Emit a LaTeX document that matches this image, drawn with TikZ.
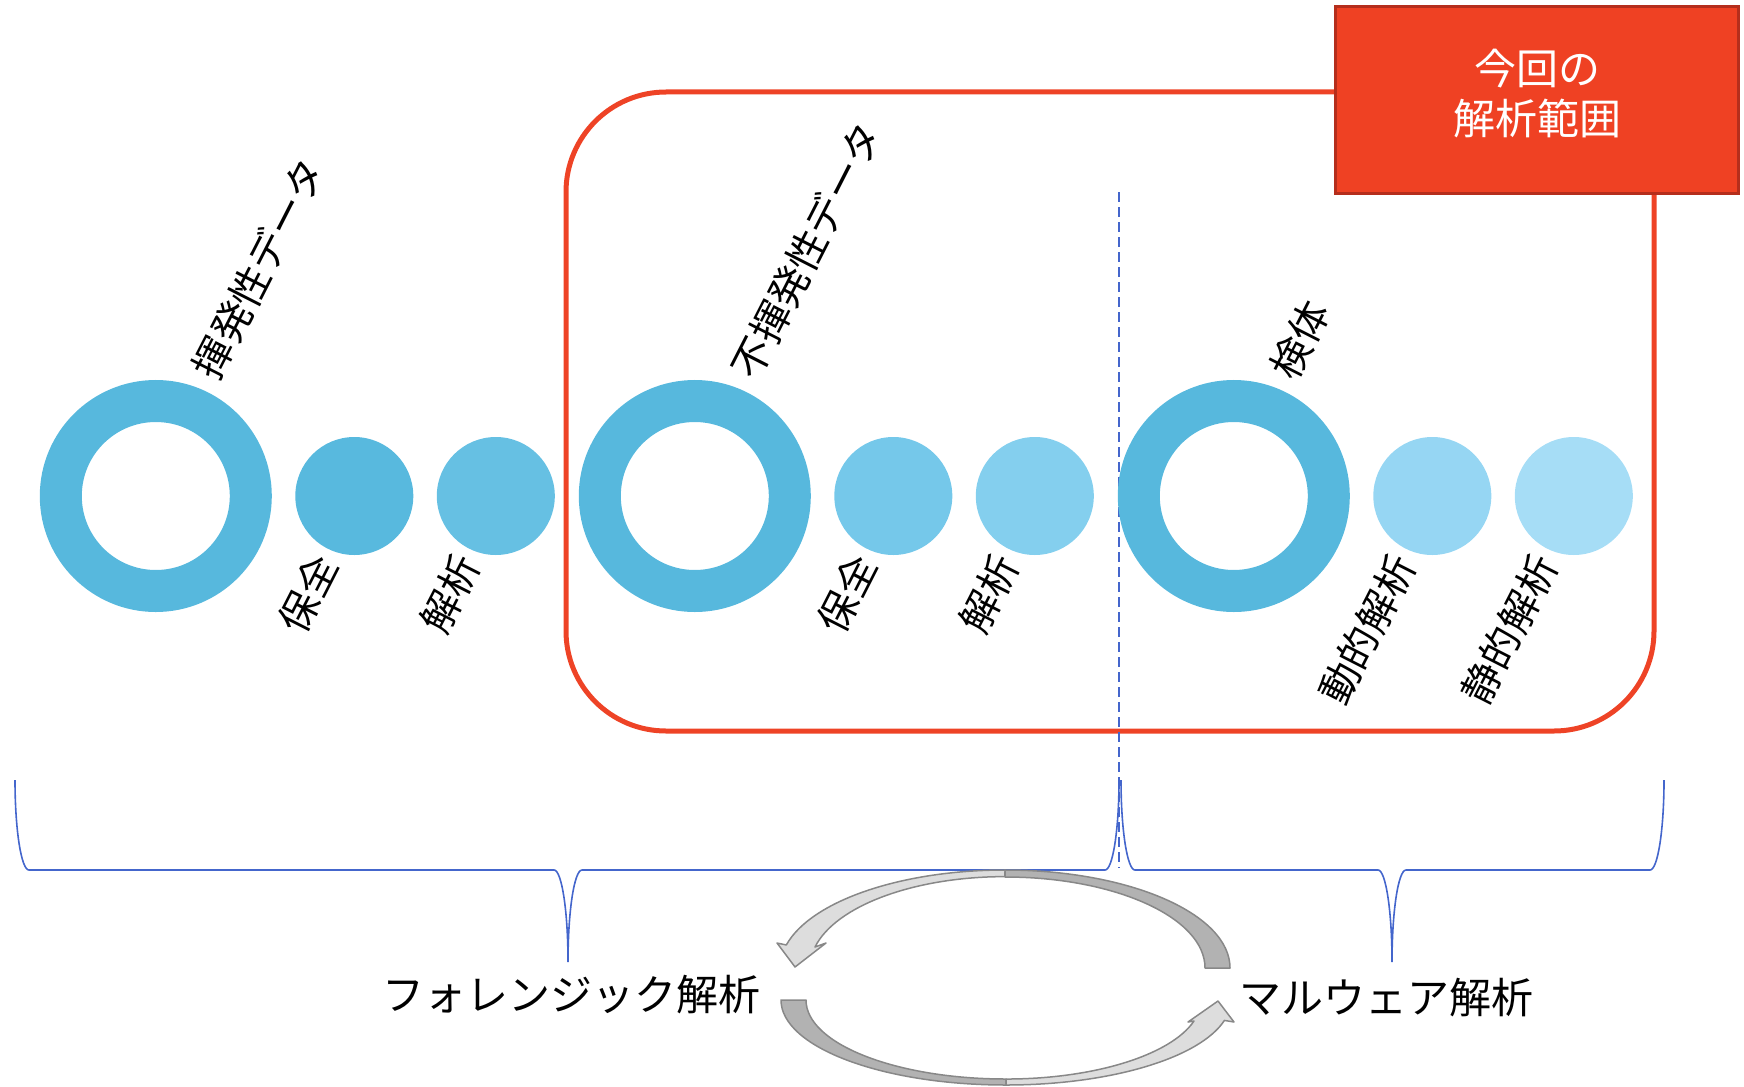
\documentclass[tikz,border=0pt]{standalone}
\usepackage{fontspec}
\setmainfont{Noto Sans CJK JP}
\definecolor{ringblue}{HTML}{57B8DD}
\definecolor{cA}{HTML}{58B9DE}
\definecolor{cB}{HTML}{66C0E3}
\definecolor{cC}{HTML}{75C8EA}
\definecolor{cD}{HTML}{84CFEE}
\definecolor{cE}{HTML}{96D6F3}
\definecolor{cF}{HTML}{A6DDF6}
\definecolor{scopered}{HTML}{EE4326}
\definecolor{boxred}{HTML}{EF4123}
\definecolor{boxedge}{HTML}{B52E1C}
\definecolor{braceblue}{HTML}{4466CC}
\definecolor{arrline}{HTML}{888888}
\definecolor{arrdarkfill}{HTML}{B2B2B2}
\definecolor{arrlightfill}{HTML}{DDDDDD}
\begin{document}
\begin{tikzpicture}[x=0.5pt,y=-0.5pt,
  ring/.style={circle,draw=ringblue,line width=21pt,minimum size=95pt,inner sep=0pt},
  dot/.style={circle,minimum size=59pt,inner sep=0pt},
  toplabel/.style={anchor=west,rotate=63,inner sep=0pt,font=\fontsize{20pt}{24pt}\selectfont},
  botlabel/.style={anchor=east,rotate=63,inner sep=0pt,font=\fontsize{20pt}{24pt}\selectfont},
  biglabel/.style={inner sep=0pt,font=\fontsize{21pt}{25pt}\selectfont},
  bluebrace/.style={draw=braceblue,line width=0.8pt},
  dashline/.style={draw=braceblue,line width=0.75pt,dash pattern=on 5pt off 2.5pt},
  arrdark/.style={draw=arrline,fill=arrdarkfill,line width=0.75pt,line join=round},
  arrlight/.style={draw=arrline,fill=arrlightfill,line width=0.75pt,line join=round}]
\useasboundingbox (0,0) rectangle (1744,1086);

% scope frame
\node[draw=scopered,line width=2.5pt,rounded corners=50pt,minimum width=544pt,minimum height=319.5pt,inner sep=0pt] (frame) at (1110,411.5) {};
% red label box
\node[draw=boxedge,fill=boxred,line width=1.5pt,minimum width=201.5pt,minimum height=93pt,inner sep=0pt] (scopebox) at (1536.5,100) {};
\node[biglabel,text=white,align=center] (scopetext) at (1537,94) {今回の\\解析範囲};

% dashed divider
\coordinate (dtop) at (1119,192);
\coordinate (dbot) at (1119,868);
\draw[dashline] (dtop) -- (dbot);

% rings and dots
\node[ring] (r1) at (155.8,496) {};
\node[ring] (r2) at (694.8,496) {};
\node[ring] (r3) at (1233.8,496) {};
\node[dot,fill=cA] (d1) at (354.3,496) {};
\node[dot,fill=cB] (d2) at (495.8,496) {};
\node[dot,fill=cC] (d3) at (893.3,496) {};
\node[dot,fill=cD] (d4) at (1034.8,496) {};
\node[dot,fill=cE] (d5) at (1432.3,496) {};
\node[dot,fill=cF] (d6) at (1573.8,496) {};

% labels
\node[toplabel] (l1) at (204,376) {揮発性データ};
\node[toplabel] (l2) at (743,376) {不揮発性データ};
\node[toplabel] (l3) at (1282,376) {検体};
\node[botlabel] (b1) at (326,558) {保全};
\node[botlabel] (b2) at (468,558) {解析};
\node[botlabel] (b3) at (865,558) {保全};
\node[botlabel] (b4) at (1007,558) {解析};
\node[botlabel] (b5) at (1404,558) {動的解析};
\node[botlabel] (b6) at (1546,558) {静的解析};

% braces
\draw[bluebrace] (15,780) arc[start angle=180,end angle=90,x radius=14,y radius=90]
  -- (554,870) arc[start angle=-90,end angle=0,x radius=14,y radius=92]
  arc[start angle=180,end angle=270,x radius=14,y radius=92]
  -- (1105,870) arc[start angle=90,end angle=0,x radius=14,y radius=90];
\draw[bluebrace] (1121,780) arc[start angle=180,end angle=90,x radius=14,y radius=90]
  -- (1378,870) arc[start angle=-90,end angle=0,x radius=14,y radius=92]
  arc[start angle=180,end angle=270,x radius=14,y radius=92]
  -- (1650,870) arc[start angle=90,end angle=0,x radius=14,y radius=90];

% bottom labels
\node[biglabel] (forensic) at (571.7,995) {フォレンジック解析};
\node[biglabel] (malware) at (1386,998) {マルウェア解析};

% cycle arrows
\draw[arrdark] (1230,968) arc[start angle=0,end angle=-90,x radius=225,y radius=98]
  -- (1005,877) arc[start angle=-90,end angle=0,x radius=200,y radius=91] -- cycle;
\draw[arrlight] (1005,870) arc[start angle=-90,end angle=-166.4,x radius=225,y radius=98]
  -- (777,943) -- (795,967) -- (826,943) -- (815,947)
  arc[start angle=-166.9,end angle=-90,x radius=195,y radius=91] -- cycle;
\draw[arrdark] (781,1000) arc[start angle=180,end angle=90,x radius=225,y radius=85]
  -- (1006,1079) arc[start angle=90,end angle=180,x radius=200,y radius=79] -- cycle;
\draw[arrlight] (1006,1085) arc[start angle=90,end angle=13.9,x radius=225,y radius=85]
  -- (1234,1022) -- (1218,1001) -- (1188,1022) -- (1194,1021)
  arc[start angle=15.4,end angle=90,x radius=195,y radius=79] -- cycle;
\end{tikzpicture}
\end{document}
